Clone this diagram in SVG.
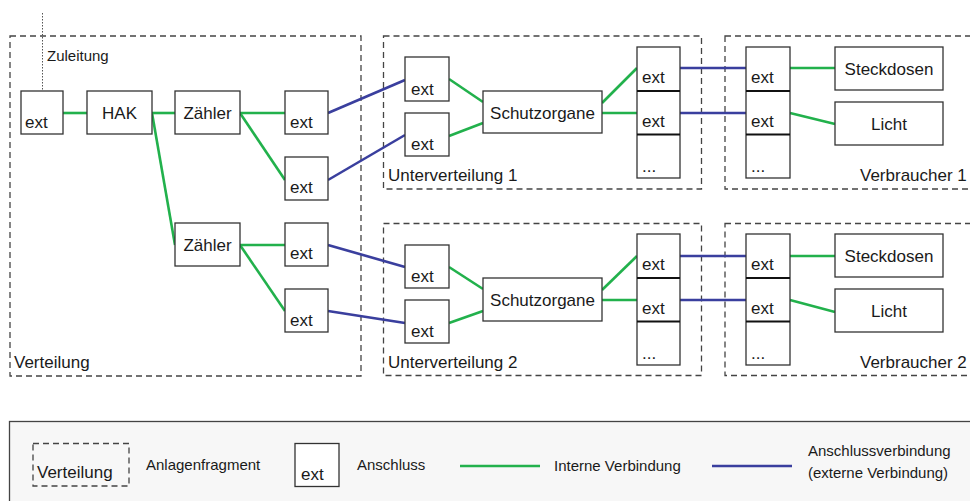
<svg xmlns="http://www.w3.org/2000/svg" width="970" height="501" viewBox="0 0 970 501">
<style>
  text { font-family: "Liberation Sans", Arial, sans-serif; font-size: 17px; fill: #1a1a1a; }
  .small { font-size: 15px; }
  .mid { text-anchor: middle; }
  .box { fill: #ffffff; stroke: #333333; stroke-width: 1.3; }
  .frag { fill: none; stroke: #444444; stroke-width: 1.3; stroke-dasharray: 6 4; }
  .div { stroke: #111111; stroke-width: 2; }
  .int { stroke: #22b14c; stroke-width: 2.6; fill: none; }
  .ext { stroke: #3a3f9e; stroke-width: 2.6; fill: none; }
</style>

<rect width="970" height="501" fill="#ffffff"/>

<!-- fragments -->
<g id="frag-verteilung">
  <rect class="frag" x="10" y="36" width="351" height="340"/>
  <text x="14" y="368">Verteilung</text>
</g>
<g id="frag-uv1">
  <rect class="frag" x="383.5" y="36" width="318" height="153"/>
  <text x="388" y="181">Unterverteilung 1</text>
</g>
<g id="frag-v1">
  <rect class="frag" x="725" y="36" width="260" height="153"/>
  <text x="860" y="181">Verbraucher 1</text>
</g>
<g id="frag-uv2">
  <rect class="frag" x="383.5" y="223.5" width="318" height="152"/>
  <text x="388" y="368">Unterverteilung 2</text>
</g>
<g id="frag-v2">
  <rect class="frag" x="725" y="223.5" width="260" height="152"/>
  <text x="860" y="368">Verbraucher 2</text>
</g>

<!-- connectors -->
<g id="connectors">
  <line x1="42.5" y1="13" x2="42.5" y2="91" stroke="#555" stroke-width="1" stroke-dasharray="1.5 1.5"/>
  <!-- internal -->
  <line class="int" x1="63" y1="113" x2="87" y2="113"/>
  <line class="int" x1="152" y1="113" x2="175" y2="113"/>
  <line class="int" x1="240" y1="113" x2="285" y2="113"/>
  <line class="int" x1="240" y1="113" x2="285" y2="180"/>
  <line class="int" x1="152" y1="113" x2="175" y2="245"/>
  <line class="int" x1="240" y1="245" x2="285" y2="245"/>
  <line class="int" x1="240" y1="245" x2="285" y2="311"/>
  <line class="int" x1="449" y1="79" x2="483" y2="102"/>
  <line class="int" x1="449" y1="136" x2="483" y2="123"/>
  <line class="int" x1="602" y1="103" x2="637" y2="68"/>
  <line class="int" x1="602" y1="113" x2="637" y2="113"/>
  <line class="int" x1="790" y1="68" x2="835" y2="68"/>
  <line class="int" x1="790" y1="113" x2="835" y2="124"/>
  <line class="int" x1="449" y1="267" x2="483" y2="289"/>
  <line class="int" x1="449" y1="323" x2="483" y2="311"/>
  <line class="int" x1="602" y1="290" x2="637" y2="256"/>
  <line class="int" x1="602" y1="300" x2="637" y2="300"/>
  <line class="int" x1="790" y1="256" x2="835" y2="256"/>
  <line class="int" x1="790" y1="300" x2="835" y2="312"/>
  <!-- external -->
  <line class="ext" x1="328" y1="113" x2="405" y2="80"/>
  <line class="ext" x1="328" y1="180" x2="405" y2="135"/>
  <line class="ext" x1="328" y1="245" x2="405" y2="267"/>
  <line class="ext" x1="328" y1="311" x2="405" y2="323"/>
  <line class="ext" x1="680" y1="68" x2="746" y2="68"/>
  <line class="ext" x1="680" y1="113" x2="746" y2="113"/>
  <line class="ext" x1="680" y1="256" x2="746" y2="256"/>
  <line class="ext" x1="680" y1="300" x2="746" y2="300"/>
</g>

<!-- Verteilung -->
<text x="47" y="61" class="small">Zuleitung</text>
<g id="ext-feed"><rect class="box" x="21" y="91" width="42" height="43"/><text x="25" y="128">ext</text></g>
<g id="hak"><rect class="box" x="87" y="91" width="65" height="43"/><text class="mid" x="119.5" y="119">HAK</text></g>
<g id="zaehler1"><rect class="box" x="175" y="91" width="65" height="43"/><text class="mid" x="207.5" y="119">Zähler</text></g>
<g id="zaehler2"><rect class="box" x="175" y="223" width="65" height="43"/><text class="mid" x="207.5" y="251">Zähler</text></g>
<g id="ext-z1a"><rect class="box" x="285" y="91" width="43" height="43"/><text x="290" y="128">ext</text></g>
<g id="ext-z1b"><rect class="box" x="285" y="157" width="43" height="43"/><text x="290" y="193">ext</text></g>
<g id="ext-z2a"><rect class="box" x="285" y="223" width="43" height="43"/><text x="290" y="259">ext</text></g>
<g id="ext-z2b"><rect class="box" x="285" y="289" width="43" height="43"/><text x="290" y="326">ext</text></g>

<!-- Unterverteilung 1 -->
<g id="uv1-in1"><rect class="box" x="405" y="57" width="44" height="44"/><text x="411" y="95">ext</text></g>
<g id="uv1-in2"><rect class="box" x="405" y="113" width="44" height="43"/><text x="411" y="150">ext</text></g>
<g id="uv1-schutz"><rect class="box" x="483" y="91" width="119" height="42"/><text class="mid" x="542.5" y="119">Schutzorgane</text></g>
<g id="uv1-out">
  <rect class="box" x="637" y="47" width="43" height="131"/>
  <line class="div" x1="637" y1="91" x2="680" y2="91"/>
  <line class="div" x1="637" y1="134.5" x2="680" y2="134.5"/>
  <text x="642" y="83">ext</text>
  <text x="642" y="127">ext</text>
  <text x="642" y="172">...</text>
</g>

<!-- Verbraucher 1 -->
<g id="v1-in">
  <rect class="box" x="746" y="47" width="44" height="131"/>
  <line class="div" x1="746" y1="91" x2="790" y2="91"/>
  <line class="div" x1="746" y1="134.5" x2="790" y2="134.5"/>
  <text x="751" y="83">ext</text>
  <text x="751" y="127">ext</text>
  <text x="751" y="172">...</text>
</g>
<g id="v1-steckdosen"><rect class="box" x="835" y="47" width="108" height="43"/><text class="mid" x="889" y="75">Steckdosen</text></g>
<g id="v1-licht"><rect class="box" x="835" y="102" width="108" height="43"/><text class="mid" x="889" y="130">Licht</text></g>

<!-- Unterverteilung 2 -->
<g id="uv2-in1"><rect class="box" x="405" y="245" width="44" height="43"/><text x="411" y="282">ext</text></g>
<g id="uv2-in2"><rect class="box" x="405" y="300" width="44" height="43"/><text x="411" y="337">ext</text></g>
<g id="uv2-schutz"><rect class="box" x="483" y="278" width="119" height="43"/><text class="mid" x="542.5" y="306">Schutzorgane</text></g>
<g id="uv2-out">
  <rect class="box" x="637" y="234" width="43" height="131"/>
  <line class="div" x1="637" y1="278" x2="680" y2="278"/>
  <line class="div" x1="637" y1="321.5" x2="680" y2="321.5"/>
  <text x="642" y="270">ext</text>
  <text x="642" y="314">ext</text>
  <text x="642" y="359">...</text>
</g>

<!-- Verbraucher 2 -->
<g id="v2-in">
  <rect class="box" x="746" y="234" width="44" height="131"/>
  <line class="div" x1="746" y1="278" x2="790" y2="278"/>
  <line class="div" x1="746" y1="321.5" x2="790" y2="321.5"/>
  <text x="751" y="270">ext</text>
  <text x="751" y="314">ext</text>
  <text x="751" y="359">...</text>
</g>
<g id="v2-steckdosen"><rect class="box" x="835" y="234" width="108" height="43"/><text class="mid" x="889" y="262">Steckdosen</text></g>
<g id="v2-licht"><rect class="box" x="835" y="289" width="108" height="43"/><text class="mid" x="889" y="317">Licht</text></g>

<!-- legend -->
<g id="legend">
  <rect x="9.5" y="421.5" width="975" height="100" fill="#f7f7f7" stroke="#444" stroke-width="1.3"/>
  <rect class="frag" x="33" y="443.5" width="96" height="42.5"/>
  <text x="37" y="478">Verteilung</text>
  <text x="146" y="470" class="small">Anlagenfragment</text>
  <rect class="box" x="295" y="443.5" width="44" height="43"/>
  <text x="301" y="480">ext</text>
  <text x="357" y="470" class="small">Anschluss</text>
  <line class="int" x1="460" y1="466" x2="540" y2="466"/>
  <text x="554" y="471" class="small">Interne Verbindung</text>
  <line class="ext" x1="712" y1="466" x2="792" y2="466"/>
  <text x="808" y="456" class="small">Anschlussverbindung</text>
  <text x="808" y="478" class="small">(externe Verbindung)</text>
</g>
</svg>
